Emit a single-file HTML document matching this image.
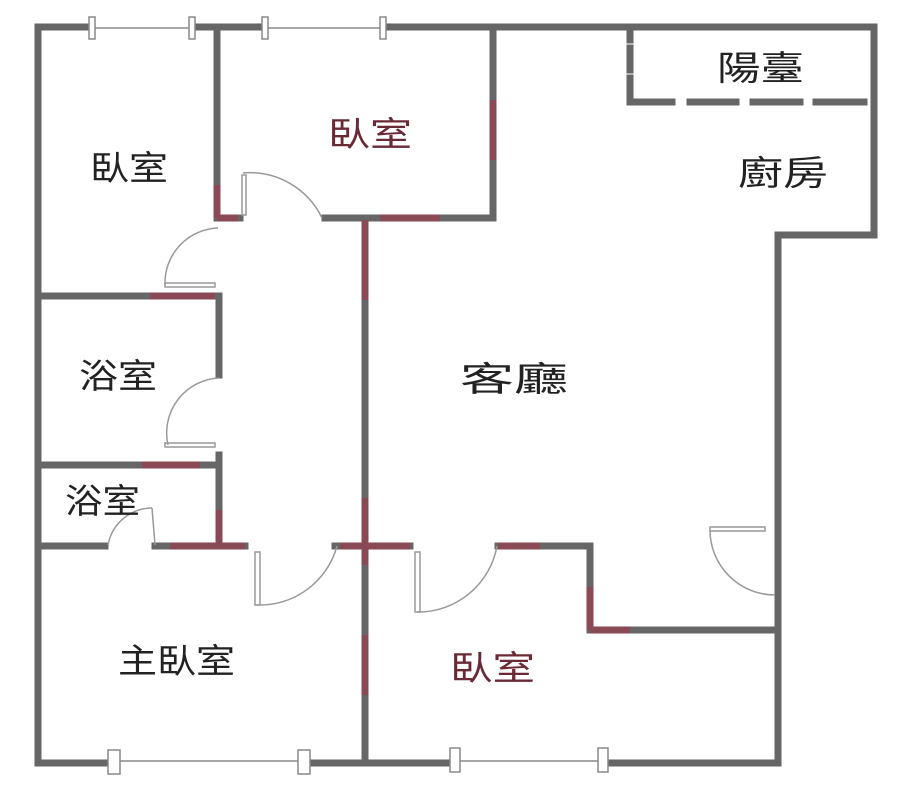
<!DOCTYPE html>
<html><head><meta charset="utf-8"><style>
html,body{margin:0;padding:0;background:#fff;}
svg{display:block;}
text{font-family:"Liberation Sans","Noto Sans CJK TC",sans-serif;font-size:34px;}
</style></head><body>
<svg width="900" height="799" viewBox="0 0 900 799" xmlns="http://www.w3.org/2000/svg">
<g stroke="#666" stroke-width="7" fill="none" stroke-linecap="square">
<line x1="38" y1="27" x2="92" y2="27"/>
<line x1="192" y1="27" x2="265" y2="27"/>
<line x1="383" y1="27" x2="874" y2="27"/>
<line x1="38" y1="27" x2="38" y2="763"/>
<line x1="874" y1="27" x2="874" y2="235"/>
<line x1="778" y1="235" x2="874" y2="235"/>
<line x1="778" y1="235" x2="778" y2="763"/>
<line x1="38" y1="763" x2="115" y2="763"/>
<line x1="305" y1="763" x2="455" y2="763"/>
<line x1="605" y1="763" x2="778" y2="763"/>
<line x1="217" y1="27" x2="217" y2="218"/>
<line x1="217" y1="218" x2="240" y2="218"/>
<line x1="325" y1="218" x2="493" y2="218"/>
<line x1="493" y1="27" x2="493" y2="218"/>
<line x1="365" y1="218" x2="365" y2="763"/>
<line x1="38" y1="296" x2="217" y2="296"/>
<line x1="219" y1="296" x2="219" y2="375"/>
<line x1="38" y1="465" x2="219" y2="465"/>
<line x1="219" y1="455" x2="219" y2="546"/>
<line x1="38" y1="546" x2="105" y2="546"/>
<line x1="155" y1="546" x2="245" y2="546"/>
<line x1="335" y1="546" x2="410" y2="546"/>
<line x1="498" y1="546" x2="590" y2="546"/>
<line x1="590" y1="546" x2="590" y2="630"/>
<line x1="590" y1="630" x2="778" y2="630"/>
<line x1="630" y1="30" x2="630" y2="40"/>
<line x1="630" y1="48" x2="630" y2="70"/>
<line x1="630" y1="78" x2="630" y2="102"/>
<line x1="630" y1="102" x2="672" y2="102"/>
<line x1="690" y1="102" x2="736" y2="102"/>
<line x1="753" y1="102" x2="800" y2="102"/>
<line x1="816" y1="102" x2="864" y2="102"/>
</g>
<g stroke="#8a4a55" stroke-width="7" fill="none">
<line x1="493" y1="100" x2="493" y2="160"/>
<line x1="217" y1="185" x2="217" y2="218"/>
<line x1="217" y1="218" x2="238" y2="218"/>
<line x1="150" y1="296" x2="215" y2="296"/>
<line x1="365" y1="220" x2="365" y2="300"/>
<line x1="365" y1="498" x2="365" y2="565"/>
<line x1="365" y1="635" x2="365" y2="695"/>
<line x1="142" y1="465" x2="200" y2="465"/>
<line x1="219" y1="510" x2="219" y2="546"/>
<line x1="170" y1="546" x2="245" y2="546"/>
<line x1="340" y1="546" x2="410" y2="546"/>
<line x1="498" y1="546" x2="540" y2="546"/>
<line x1="590" y1="587" x2="590" y2="630"/>
<line x1="590" y1="630" x2="630" y2="630"/>
<line x1="380" y1="218" x2="440" y2="218"/>
</g>
<g stroke="#888" stroke-width="1.5" fill="#fff">
<line x1="92" y1="28" x2="192" y2="28"/>
<line x1="265" y1="28" x2="383" y2="28"/>
<line x1="117" y1="761" x2="303" y2="761"/>
<line x1="455" y1="761" x2="603" y2="761"/>
<rect x="89" y="17" width="6" height="22"/>
<rect x="189" y="17" width="6" height="22"/>
<rect x="262" y="17" width="6" height="22"/>
<rect x="380" y="17" width="6" height="22"/>
<rect x="108" y="750" width="12" height="24"/>
<rect x="298" y="750" width="12" height="24"/>
<rect x="450" y="748" width="10" height="24"/>
<rect x="598" y="748" width="10" height="24"/>
</g>
<g stroke="#999" stroke-width="1.5" fill="none">
<path d="M243 173 A80 80 0 0 1 322 218"/>
<rect x="242" y="175" width="4" height="40"/>
<path d="M165 285 A55 55 0 0 1 218 228"/>
<rect x="165" y="283" width="50" height="4"/>
<path d="M168 445 A55 55 0 0 1 219 378"/>
<rect x="165" y="443" width="50" height="4"/>
<path d="M108 545 A45 45 0 0 1 152 508"/>
<line x1="152" y1="508" x2="155" y2="545"/>
<path d="M257 605 A80 80 0 0 0 337 546"/>
<rect x="255" y="552" width="5" height="53"/>
<path d="M417 612 A80 80 0 0 0 497 546"/>
<rect x="415" y="552" width="5" height="60"/>
<path d="M710 530 A65 65 0 0 0 775 595"/>
<rect x="710" y="527" width="55" height="4"/>
</g>
<g fill="#222">
<text x="90" y="180" textLength="78" lengthAdjust="spacingAndGlyphs">臥室</text>
<text x="79" y="388" textLength="78" lengthAdjust="spacingAndGlyphs">浴室</text>
<text x="65" y="513" textLength="75" lengthAdjust="spacingAndGlyphs">浴室</text>
<text x="118" y="673" textLength="117" lengthAdjust="spacingAndGlyphs">主臥室</text>
<text x="717" y="80" textLength="87" lengthAdjust="spacingAndGlyphs">陽臺</text>
<text x="738" y="185" textLength="90" lengthAdjust="spacingAndGlyphs">廚房</text>
<text x="460" y="391" textLength="108" lengthAdjust="spacingAndGlyphs">客廳</text>
</g>
<g fill="#6a2a35">
<text x="328" y="146" textLength="84" lengthAdjust="spacingAndGlyphs">臥室</text>
<text x="450" y="680" textLength="85" lengthAdjust="spacingAndGlyphs">臥室</text>
</g>
</svg>
</body></html>
